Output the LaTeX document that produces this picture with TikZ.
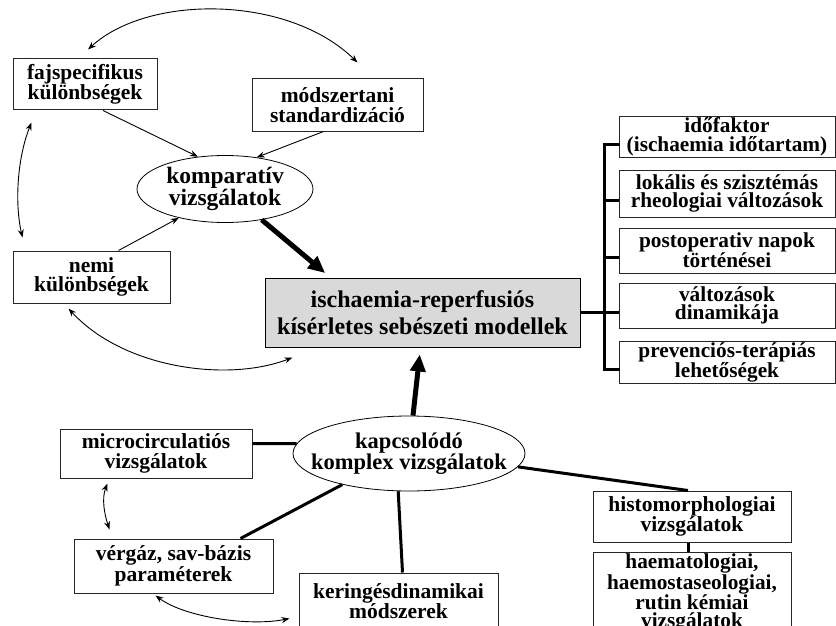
\documentclass[tikz,border=0pt]{standalone}
\usepackage{fontspec}
\setmainfont{Liberation Serif}
\usetikzlibrary{arrows.meta, shapes.geometric, calc}

\begin{document}
\begin{tikzpicture}[x=1pt, y=-1pt,
    box/.style={rectangle, draw=black!85, line width=1pt, align=center, inner sep=1pt, font=\bfseries\fontsize{21.5}{19.5}\selectfont},
    oval/.style={ellipse, draw, line width=0.8pt, align=center, inner sep=0pt, font=\bfseries\fontsize{23.5}{22}\selectfont},
    side/.style={box, minimum width=216pt, font=\bfseries\fontsize{21.3}{18.5}\selectfont},
    link/.style={draw, line width=0.9pt, -{Stealth[length=8pt, width=6pt]}},
    pair/.style={draw, line width=0.9pt, {Stealth[length=8pt, width=6pt]}-{Stealth[length=8pt, width=6pt]}},
    heavy/.style={draw, line width=5pt, -{Triangle[length=17pt, width=15pt]}},
    joint/.style={draw, line width=3pt}]
    \useasboundingbox (0,0) rectangle (836,626);
    \clip (0,0) rectangle (836,626);

    \node [box, minimum width=144pt, minimum height=51pt] (faj) at (85,84.5) {fajspecifikus\\különbségek};
    \node [box, minimum width=171pt, minimum height=52pt] (modsz) at (337.5,105) {módszertani\\standardizáció};
    \node [oval, minimum width=176pt, minimum height=67pt] (komp) at (225,189) {komparatív\\vizsgálatok};
    \node [box, minimum width=157pt, minimum height=52pt] (nemi) at (91.5,277) {nemi\\különbségek};
    \node [box, draw=black, fill=black!15, minimum width=315pt, minimum height=69pt, font=\bfseries\fontsize{24}{27}\selectfont] (model) at (422.5,312.5) {ischaemia-reperfusiós\\kísérletes sebészeti modellek};
    \node [side, minimum height=40pt] (r1) at (727,137) {időfaktor\\(ischaemia időtartam)};
    \node [side, minimum height=47pt] (r2) at (727,193.5) {lokális és szisztémás\\rheologiai változások};
    \node [side, minimum height=45pt] (r3) at (727,250.5) {postoperativ napok\\történései};
    \node [side, minimum height=45pt] (r4) at (727,305.5) {változások\\dinamikája};
    \node [side, minimum height=39pt] (r5) at (727,362.5) {prevenciós-terápiás\\lehetőségek};
    \node [oval, inner xsep=-40pt, minimum width=232pt, minimum height=75pt, font=\bfseries\fontsize{22.5}{20.5}\selectfont] (kap) at (409,453.5) {kapcsolódó\\komplex vizsgálatok};
    \node [box, minimum width=192pt, minimum height=49pt] (mic) at (156,453.5) {microcirculatiós\\vizsgálatok};
    \node [box, minimum width=199pt, minimum height=54pt] (verg) at (173.5,566) {vérgáz, sav-bázis\\paraméterek};
    \node [box, minimum width=199pt, minimum height=56pt] (ker) at (398.5,601) {keringésdinamikai\\módszerek};
    \node [box, minimum width=198pt, minimum height=51pt] (hist) at (692,516.5) {histomorphologiai\\vizsgálatok};
    \node [box, minimum width=198pt, minimum height=80pt, font=\bfseries\fontsize{21.3}{18}\selectfont] (haem) at (692,593) {haematologiai,\\haemostaseologiai,\\rutin kémiai\\vizsgálatok};

    \path [link] ($(faj.south)+(18,0)$) -- (komp.130);
    \path [link] ($(modsz.south)+(-14,0)$) -- (komp.45);
    \path [link] ($(nemi.north)+(27,0)$) -- (komp.212);
    \path [heavy, shorten >=7pt] (komp.-40) -- ($(model.north west)+(66,0)$);
    \path [heavy, shorten >=7pt] (kap.84) -- ($(model.south)+(-2,0)$);

    \path [pair] ($(faj.north)+(3,-9)$) .. controls +(60,-55) and +(-70,-68) .. ($(modsz.north)+(20,-16)$);
    \path [pair] ($(faj.south west)+(19,12)$) .. controls +(-14,35) and +(-8,-35) .. ($(nemi.north west)+(10,-13)$);
    \path [pair] ($(nemi.south)+(-23,5)$) .. controls +(55,60) and +(-65,25) .. ($(model.south west)+(28,10)$);
    \path [pair] ($(mic.south west)+(48,5)$) .. controls +(-6,15) and +(-5,-15) .. ($(verg.north west)+(36,-9)$);
    \path [pair] ($(verg.south)+(-18,2)$) .. controls +(30,22) and +(-40,8) .. ($(ker.north west)+(-9,46)$);

    \coordinate (spine) at (605,0);
    \path [joint] (model.east) -- (model.east -| spine);
    \path [joint, line cap=rect] ($(r1.west)+(0,7)$) -| ($(r5.west)+(-14,7)$) -- ($(r5.west)+(0,7)$);
    \foreach \r in {r2, r3, r4}
        \path [joint] ($(\r.west)+(0,7)$) -- +(-14,0);

    \path [joint] ($(mic.east)+(0,-10)$) -- (kap.175);
    \path [joint] ($(verg.north east)+(-33,0)$) -- (kap.205);
    \path [joint] ($(ker.north)+(4,0)$) -- (kap.254);
    \path [joint] (kap.-7) -- ($(hist.north)+(-4,0)$);
    \path [joint] ($(hist.south)+(-4,0)$) -- ($(haem.north)+(-4,0)$);
\end{tikzpicture}
\end{document}
